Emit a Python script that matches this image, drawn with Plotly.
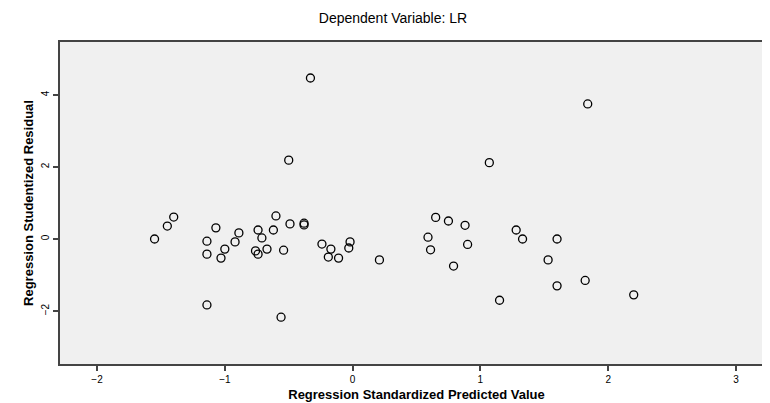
import plotly.graph_objects as go

# standardized predicted value vs studentized residual
pred = [-1.55, -1.45, -1.40, -1.07, -1.14, -1.14, -1.03, -1.00, -0.92, -0.89,
        -0.74, -0.71, -0.76, -0.74, -0.67, -0.62, -0.60, -0.49, -0.54, -0.38,
        -0.38, -0.24, -0.17, -0.19, -0.11, -0.03, -0.02, -1.14, -0.56, -0.33,
        -0.50, 0.21, 0.59, 0.61, 0.65, 0.75, 0.79, 0.88, 0.90, 1.07,
        1.15, 1.28, 1.33, 1.53, 1.60, 1.60, 1.82, 1.84, 2.20]
resid = [0.00, 0.36, 0.61, 0.31, -0.06, -0.42, -0.53, -0.28, -0.08, 0.17,
         0.25, 0.03, -0.33, -0.42, -0.28, 0.25, 0.64, 0.42, -0.31, 0.44,
         0.39, -0.14, -0.28, -0.50, -0.53, -0.25, -0.08, -1.83, -2.17, 4.47,
         2.19, -0.58, 0.05, -0.30, 0.60, 0.50, -0.75, 0.38, -0.15, 2.12,
         -1.70, 0.25, 0.00, -0.58, 0.00, -1.30, -1.15, 3.75, -1.55]
x_ticks = [-2, -1, 0, 1, 2, 3]
y_ticks = [-2, 0, 2, 4]

fig = go.Figure()
fig.add_trace(go.Scatter(
    x=pred, y=resid, mode='markers',
    marker=dict(symbol='circle-open', size=8, color='black', line=dict(width=1.3)),
    showlegend=False
))

fig.update_layout(
    width=770, height=403,
    paper_bgcolor='white', plot_bgcolor='#f0f0f0',
    font=dict(family='Liberation Sans, Arial', color='black', size=10),
    margin=dict(l=52, r=5, t=34, b=47),
    title=dict(text='Dependent Variable: LR', x=0.5, xanchor='center',
               y=0.975, yanchor='middle', font=dict(size=14)),
)
axis_common = dict(showgrid=False, zeroline=False, showline=True, linecolor='#444',
                   linewidth=1.5, mirror=True, ticks='outside', ticklen=5,
                   tickcolor='#444', tickwidth=1.5, automargin=False)
fig.update_xaxes(range=[-2.29, 3.29], tickvals=x_ticks,
                 title=dict(text='<b>Regression Standardized Predicted Value</b>',
                            font=dict(size=13), standoff=6), **axis_common)
fig.update_yaxes(range=[-3.47, 5.47], tickvals=y_ticks, tickangle=-90,
                 title=dict(text='<b>Regression Studentized Residual</b>',
                            font=dict(size=13), standoff=4), **axis_common)

fig.write_html("out.html")
